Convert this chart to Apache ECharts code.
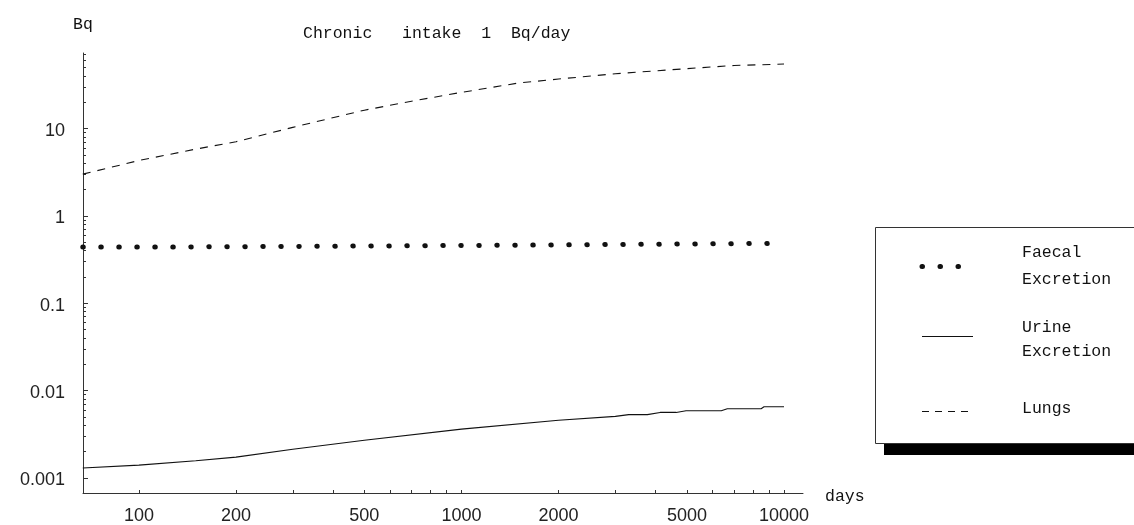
<!DOCTYPE html>
<html>
<head>
<meta charset="utf-8">
<script src="https://cdn.jsdelivr.net/npm/echarts@6/dist/echarts.min.js"></script>
<style>
html,body{margin:0;padding:0;background:#fff;}
#chart{width:1134px;height:525px;}
</style>
</head>
<body>
<div id="chart"></div>
<script>
// ---- data ----
const titleText = 'Chronic   intake  1  Bq/day';
const yAxisName = 'Bq';
const xAxisName = 'days';

const xTickLabels = [100, 200, 500, 1000, 2000, 5000, 10000];
const xTicks = [100, 200, 300, 400, 500, 600, 700, 800, 900, 1000, 2000, 3000, 4000, 5000, 6000, 7000, 8000, 9000, 10000];
const yTickValues = [0.001, 0.01, 0.1, 1, 10];
const yTickLabels = ['0.001', '0.01', '0.1', '1', '10'];
const yMinorTicks = [
  0.002,0.003,0.004,0.005,0.006,0.007,0.008,0.009,
  0.02,0.03,0.04,0.05,0.06,0.07,0.08,0.09,
  0.2,0.3,0.4,0.5,0.6,0.7,0.8,0.9,
  2,3,4,5,6,7,8,9,
  20,30,40,50,60,70
];

const lungsDays = [67, 100, 150, 200, 300, 500, 700, 1000, 1500, 2000, 3000, 5000, 7000, 10000];
const lungsBq   = [3.0, 4.3, 5.8, 7.05, 10.3, 16.2, 20.5, 25.9, 33.1, 36.8, 42.3, 48.4, 52.6, 54.6];

const urineDays = [67, 100, 150, 200, 300, 500, 1000, 2000, 3000, 3300, 3770, 4130, 4630, 4970, 6390, 6670, 8490, 8670, 10000];
const urineBq   = [0.0013, 0.0014, 0.00157, 0.00173, 0.00213, 0.0027, 0.00362, 0.00458, 0.00506, 0.0053, 0.0053, 0.00562, 0.00562, 0.00588, 0.00588, 0.0062, 0.0062, 0.00653, 0.00653];

const faecalDays = [67, 140, 141, 1650, 1660, 10000];
const faecalBq   = [0.44, 0.44, 0.462, 0.462, 0.485, 0.485];

const legendNames = ['Faecal\nExcretion', 'Urine\nExcretion', 'Lungs'];

// ---- chart ----
const zip = (a, b) => a.map((v, i) => [v, b[i]]);
const mono = 'Liberation Mono';
const sans = 'Liberation Sans';
const ink = '#111';
const axisCol = '#333';

const chart = echarts.init(document.getElementById('chart'), null, {renderer: 'canvas'});

const X_MIN = 67.1, X_MAX = 11450, Y_MIN = 0.000672, Y_MAX = 73.1;

function yLabel(v) {
  let best = 0, bd = Infinity;
  yTickValues.forEach((t, i) => {
    const d = Math.abs(Math.log10(v) - Math.log10(t));
    if (d < bd) { bd = d; best = i; }
  });
  return yTickLabels[best];
}

const option = {
  animation: false,
  backgroundColor: '#fff',
  grid: {left: 83, top: 53, width: 720, height: 445, containLabel: false},
  xAxis: {
    type: 'log', logBase: 10, min: X_MIN, max: X_MAX,
    axisLine: {show: true, lineStyle: {color: axisCol, width: 1}},
    axisTick: {show: true, inside: true, length: 3, customValues: xTicks, lineStyle: {color: axisCol}},
    axisLabel: {show: true, customValues: xTickLabels, margin: 14, fontFamily: sans, fontSize: 18, color: '#222',
      formatter: v => String(Math.round(v))},
    splitLine: {show: false}, minorTick: {show: false}
  },
  yAxis: [{
    type: 'log', logBase: 10, min: Y_MIN, max: Y_MAX,
    name: yAxisName, nameLocation: 'end', nameGap: 20,
    nameTextStyle: {fontFamily: mono, fontSize: 16.5, color: ink, align: 'center'},
    axisLine: {show: true, lineStyle: {color: axisCol, width: 1}},
    axisTick: {show: true, inside: true, length: 5, customValues: yTickValues, lineStyle: {color: axisCol}},
    axisLabel: {show: true, customValues: yTickValues, margin: 18, color: '#222',
      formatter: v => '{a|' + yLabel(v) + '}',
      rich: {a: {fontFamily: sans, fontSize: 18, color: '#222', padding: [5, 0, 0, 0]}}},
    splitLine: {show: false}
  }, {
    type: 'log', logBase: 10, min: Y_MIN, max: Y_MAX, position: 'left', offset: 0,
    axisLine: {show: false},
    axisTick: {show: true, inside: true, length: 3, customValues: yMinorTicks, lineStyle: {color: axisCol}},
    axisLabel: {show: false},
    splitLine: {show: false}
  }],
  series: [
    {
      name: legendNames[0], type: 'line', data: zip(faecalDays, faecalBq), showSymbol: false, symbol: 'none',
      lineStyle: {color: ink, width: 5, type: [0.5, 17.5], cap: 'round'}, silent: true
    },
    {
      name: legendNames[1], type: 'line', data: zip(urineDays, urineBq), showSymbol: false, symbol: 'none',
      lineStyle: {color: ink, width: 1.1, type: 'solid'}, silent: true
    },
    {
      name: legendNames[2], type: 'line', data: zip(lungsDays, lungsBq), showSymbol: false, symbol: 'none',
      lineStyle: {color: ink, width: 1.1, type: [8, 7]}, silent: true
    }
  ],
  graphic: [
    {type: 'text', left: 303, top: 25, style: {text: titleText, fontFamily: mono, fontSize: 16.5, fill: ink}},
    {type: 'text', x: 825, y: 497, style: {text: xAxisName, fontFamily: mono, fontSize: 16.5, fill: ink, verticalAlign: 'middle'}},
    // legend shadow + box
    {type: 'rect', shape: {x: 884, y: 444, width: 260, height: 11}, style: {fill: '#000'}, z: 10},
    {type: 'rect', shape: {x: 875.5, y: 227.5, width: 300, height: 216}, style: {fill: '#fff', stroke: axisCol, lineWidth: 1}, z: 11},
    {type: 'polyline', shape: {points: [[922, 266.5], [962, 266.5]]}, style: {stroke: ink, lineWidth: 5, lineDash: [0.5, 17.5], lineCap: 'round'}, z: 12},
    {type: 'line', shape: {x1: 922, y1: 336.5, x2: 973, y2: 336.5}, style: {stroke: ink, lineWidth: 1.1}, z: 12},
    {type: 'line', shape: {x1: 922, y1: 411.5, x2: 973, y2: 411.5}, style: {stroke: ink, lineWidth: 1.1, lineDash: [7, 6]}, z: 12},
    {type: 'text', x: 1022, y: 253, style: {text: 'Faecal', fontFamily: mono, fontSize: 16.5, fill: ink, verticalAlign: 'middle'}, z: 12},
    {type: 'text', x: 1022, y: 280, style: {text: 'Excretion', fontFamily: mono, fontSize: 16.5, fill: ink, verticalAlign: 'middle'}, z: 12},
    {type: 'text', x: 1022, y: 328, style: {text: 'Urine', fontFamily: mono, fontSize: 16.5, fill: ink, verticalAlign: 'middle'}, z: 12},
    {type: 'text', x: 1022, y: 352, style: {text: 'Excretion', fontFamily: mono, fontSize: 16.5, fill: ink, verticalAlign: 'middle'}, z: 12},
    {type: 'text', x: 1022, y: 409, style: {text: 'Lungs', fontFamily: mono, fontSize: 16.5, fill: ink, verticalAlign: 'middle'}, z: 12}
  ]
};
chart.setOption(option);
</script>
</body>
</html>
